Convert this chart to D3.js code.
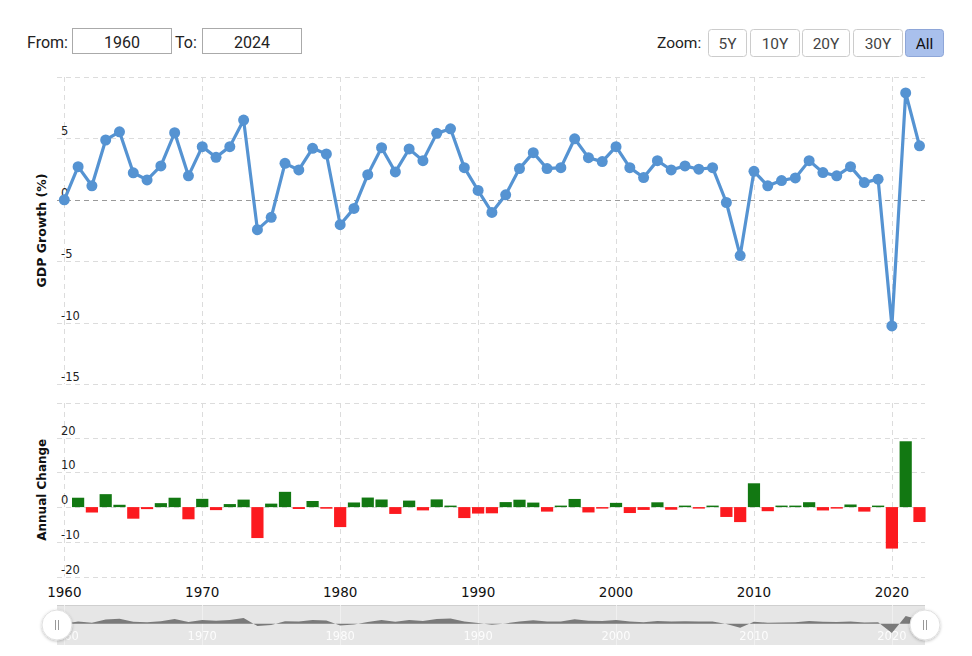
<!DOCTYPE html>
<html>
<head>
<meta charset="utf-8">
<script src="https://cdn.jsdelivr.net/npm/d3@7"></script>
<style>
  html, body { margin: 0; padding: 0; background: #fff; }
  svg { display: block; }
</style>
</head>
<body>
<svg id="chart" width="972" height="656"></svg>
<script>
// ---- DATA ----
const startYear = 1960;
const endYear = 2022;
const years = d3.range(startYear, endYear + 1);
const gdpGrowth = [
  0, 2.7, 1.14, 4.87, 5.54, 2.2, 1.62, 2.76, 5.46, 1.95,
  4.33, 3.46, 4.33, 6.49, -2.43, -1.43, 2.97, 2.43, 4.19, 3.73,
  -2.03, -0.7, 2.05, 4.24, 2.27, 4.14, 3.19, 5.41, 5.78, 2.62,
  0.76, -1.03, 0.41, 2.54, 3.84, 2.54, 2.62, 4.97, 3.43, 3.11,
  4.33, 2.62, 1.81, 3.19, 2.43, 2.76, 2.49, 2.62, -0.22, -4.54,
  2.32, 1.14, 1.57, 1.78, 3.19, 2.22, 1.95, 2.7, 1.4, 1.68,
  -10.27, 8.7, 4.4
];
const changeYears = d3.range(1961, endYear + 1);
const annualChange = [
  2.7, -1.56, 3.73, 0.67, -3.34, -0.58, 1.14, 2.7, -3.51,
  2.38, -0.87, 0.87, 2.16, -8.92, 1.0, 4.4, -0.54, 1.76, -0.46,
  -5.76, 1.33, 2.75, 2.19, -1.97, 1.87, -0.95, 2.22, 0.37, -3.16,
  -1.86, -1.79, 1.44, 2.13, 1.3, -1.3, 0.08, 2.35, -1.54, -0.32,
  1.22, -1.71, -0.81, 1.38, -0.76, 0.33, -0.27, 0.13, -2.84, -4.32,
  6.86, -1.18, 0.43, 0.21, 1.41, -0.97, -0.27, 0.75, -1.3, 0.28,
  -11.95, 18.97, -4.3
];
const xTicks = [1960, 1970, 1980, 1990, 2000, 2010, 2020];
const mainYTicks = [-15, -10, -5, 0, 5, 10];
const mainYLabels = [-15, -10, -5, 0, 5];
const lowerYTicks = [-20, -10, 0, 10, 20, 30];
const lowerYLabels = [-20, -10, 0, 10, 20];
const zoomButtons = ["5Y", "10Y", "20Y", "30Y", "All"];
const fromLabel = "From:", toLabel = "To:", fromValue = "1960", toValue = "2024";

// ---- LAYOUT ----
const svg = d3.select("#chart");
const plotL = 57, plotR = 925;
const chartFont = "'DejaVu Sans', Verdana, sans-serif";
const uiFont = "Roboto, 'Helvetica Neue', Arial, sans-serif";

const x = d3.scaleLinear().domain([1959.47, 2022.4]).range([plotL, plotR]);
const yMain = d3.scaleLinear().domain([-15, 10]).range([384, 77]);
const yLow = d3.scaleLinear().domain([-20, 30]).range([576.5, 403]);

const defs = svg.append("defs");
const f = defs.append("filter").attr("id", "shadow").attr("x", "-50%").attr("y", "-50%").attr("width", "200%").attr("height", "200%");
f.append("feDropShadow").attr("dx", 0).attr("dy", 1).attr("stdDeviation", 1.5).attr("flood-color", "#000").attr("flood-opacity", 0.25);

// ---- CONTROLS ----
svg.append("text").attr("x", 27).attr("y", 48).text(fromLabel)
  .attr("font-family", uiFont).attr("font-size", 16).attr("fill", "#222");
svg.append("rect").attr("x", 72.5).attr("y", 28.5).attr("width", 99).attr("height", 25)
  .attr("fill", "#fff").attr("stroke", "#aaa");
svg.append("text").attr("x", 122).attr("y", 47.5).attr("text-anchor", "middle").text(fromValue)
  .attr("font-family", uiFont).attr("font-size", 16).attr("fill", "#222");
svg.append("text").attr("x", 175).attr("y", 48).text(toLabel)
  .attr("font-family", uiFont).attr("font-size", 16).attr("fill", "#222");
svg.append("rect").attr("x", 202.5).attr("y", 28.5).attr("width", 99).attr("height", 25)
  .attr("fill", "#fff").attr("stroke", "#aaa");
svg.append("text").attr("x", 252).attr("y", 47.5).attr("text-anchor", "middle").text(toValue)
  .attr("font-family", uiFont).attr("font-size", 16).attr("fill", "#222");

svg.append("text").attr("x", 657).attr("y", 48).text("Zoom:")
  .attr("font-family", uiFont).attr("font-size", 15.5).attr("fill", "#222");
const btnX = [708, 750, 802, 853, 905];
const btnW = [38, 49, 47, 49, 38];
zoomButtons.forEach((b, i) => {
  const sel = b === "All";
  svg.append("rect").attr("x", btnX[i] + 0.5).attr("y", 29.5).attr("width", btnW[i]).attr("height", 27)
    .attr("rx", 3).attr("fill", sel ? "#a9c0ec" : "#fff").attr("stroke", sel ? "#8ea6d8" : "#ccc");
  svg.append("text").attr("x", btnX[i] + btnW[i] / 2 + 0.5).attr("y", 48.5).attr("text-anchor", "middle")
    .text(b).attr("font-family", uiFont).attr("font-size", 15.5)
    .attr("fill", sel ? "#111" : "#444");
});

// ---- GRIDLINES ----
function hGrid(scale, ticks, y0, y1) {
  svg.append("g").selectAll("line").data(ticks).join("line")
    .attr("x1", plotL).attr("x2", plotR)
    .attr("y1", d => Math.round(scale(d)) + 0.5).attr("y2", d => Math.round(scale(d)) + 0.5)
    .attr("stroke", d => d === 0 && scale === yMain ? "#9a9a9a" : "#dcdcdc")
    .attr("stroke-dasharray", "5,4");
  svg.append("g").selectAll("line").data(xTicks).join("line")
    .attr("x1", d => Math.round(x(d)) + 0.5).attr("x2", d => Math.round(x(d)) + 0.5)
    .attr("y1", y0).attr("y2", y1)
    .attr("stroke", "#dcdcdc").attr("stroke-dasharray", "5,4");
}
hGrid(yMain, mainYTicks, 77, 384);
hGrid(yLow, lowerYTicks, 403, 576.5);

// y tick labels (inside, above gridline)
svg.append("g").selectAll("text").data(mainYLabels).join("text")
  .attr("x", 61).attr("y", d => yMain(d) - 3).text(d => d)
  .attr("font-family", chartFont).attr("font-size", 11.5).attr("fill", "#222");
svg.append("g").selectAll("text").data(lowerYLabels).join("text")
  .attr("x", 61).attr("y", d => yLow(d) - 3).text(d => d)
  .attr("font-family", chartFont).attr("font-size", 11.5).attr("fill", "#222");

// axis titles
svg.append("text").attr("transform", `translate(46,${(77 + 384) / 2}) rotate(-90)`)
  .attr("text-anchor", "middle").text("GDP Growth (%)")
  .attr("font-family", chartFont).attr("font-size", 12.5).attr("font-weight", "bold").attr("fill", "#111");
svg.append("text").attr("transform", `translate(46,${(403 + 576.5) / 2}) rotate(-90)`)
  .attr("text-anchor", "middle").text("Annual Change")
  .attr("font-family", chartFont).attr("font-size", 12).attr("font-weight", "bold").attr("fill", "#111");

// x axis labels
svg.append("g").selectAll("text").data(xTicks).join("text")
  .attr("x", d => x(d)).attr("y", 597).attr("text-anchor", "middle").text(d => d)
  .attr("font-family", chartFont).attr("font-size", 13.5).attr("fill", "#111");

// ---- MAIN LINE ----
const lineColor = "#5593d2";
const pts = years.map((yr, i) => [yr, gdpGrowth[i]]);
svg.append("path").datum(pts)
  .attr("d", d3.line().x(d => x(d[0])).y(d => yMain(d[1])))
  .attr("fill", "none").attr("stroke", lineColor).attr("stroke-width", 3.2)
  .attr("stroke-linejoin", "round");
svg.append("g").selectAll("circle").data(pts).join("circle")
  .attr("cx", d => x(d[0])).attr("cy", d => yMain(d[1])).attr("r", 5.5)
  .attr("fill", lineColor);

// ---- BARS ----
const barW = 12.2;
const bars = changeYears.map((yr, i) => [yr, annualChange[i]]);
svg.append("g").selectAll("rect").data(bars).join("rect")
  .attr("x", d => x(d[0]) - barW / 2)
  .attr("width", barW)
  .attr("y", d => d[1] >= 0 ? Math.min(yLow(d[1]), yLow(0) - 1.5) : yLow(0))
  .attr("height", d => Math.max(Math.abs(yLow(d[1]) - yLow(0)), 1.5))
  .attr("fill", d => d[1] >= 0 ? "#127812" : "#fc1a1f");

// ---- NAVIGATOR ----
const navTop = 605, navBot = 645;
const yNav = d3.scaleLinear().domain([-10.27, 8.7]).range([633, 616]);
svg.append("rect").attr("x", plotL).attr("y", navTop).attr("width", plotR - plotL).attr("height", navBot - navTop)
  .attr("fill", "#e6e6e6");
svg.append("line").attr("x1", plotL).attr("x2", plotR).attr("y1", navTop + 0.5).attr("y2", navTop + 0.5)
  .attr("stroke", "#cfcfcf");
svg.append("g").selectAll("line").data(xTicks).join("line")
  .attr("x1", d => Math.round(x(d)) + 0.5).attr("x2", d => Math.round(x(d)) + 0.5)
  .attr("y1", navTop).attr("y2", navBot).attr("stroke", "#f0f0f0");
svg.append("path").datum(pts)
  .attr("d", d3.area().x(d => x(d[0])).y0(yNav(0)).y1(d => yNav(d[1])))
  .attr("fill", "#7a7a7a");
svg.append("g").selectAll("text").data(xTicks).join("text")
  .attr("x", d => x(d)).attr("y", 640).attr("text-anchor", "middle").text(d => d)
  .attr("font-family", chartFont).attr("font-size", 11.5).attr("fill", "#fff").attr("opacity", 0.9);

// handles
[plotL, plotR].forEach(hx => {
  const g = svg.append("g");
  g.append("circle").attr("cx", hx).attr("cy", 625).attr("r", 15)
    .attr("fill", "#fff").attr("stroke", "#e0e0e0").attr("filter", "url(#shadow)");
  g.append("line").attr("x1", hx - 1.5).attr("x2", hx - 1.5).attr("y1", 620).attr("y2", 630).attr("stroke", "#999");
  g.append("line").attr("x1", hx + 1.5).attr("x2", hx + 1.5).attr("y1", 620).attr("y2", 630).attr("stroke", "#999");
});
</script>
</body>
</html>
